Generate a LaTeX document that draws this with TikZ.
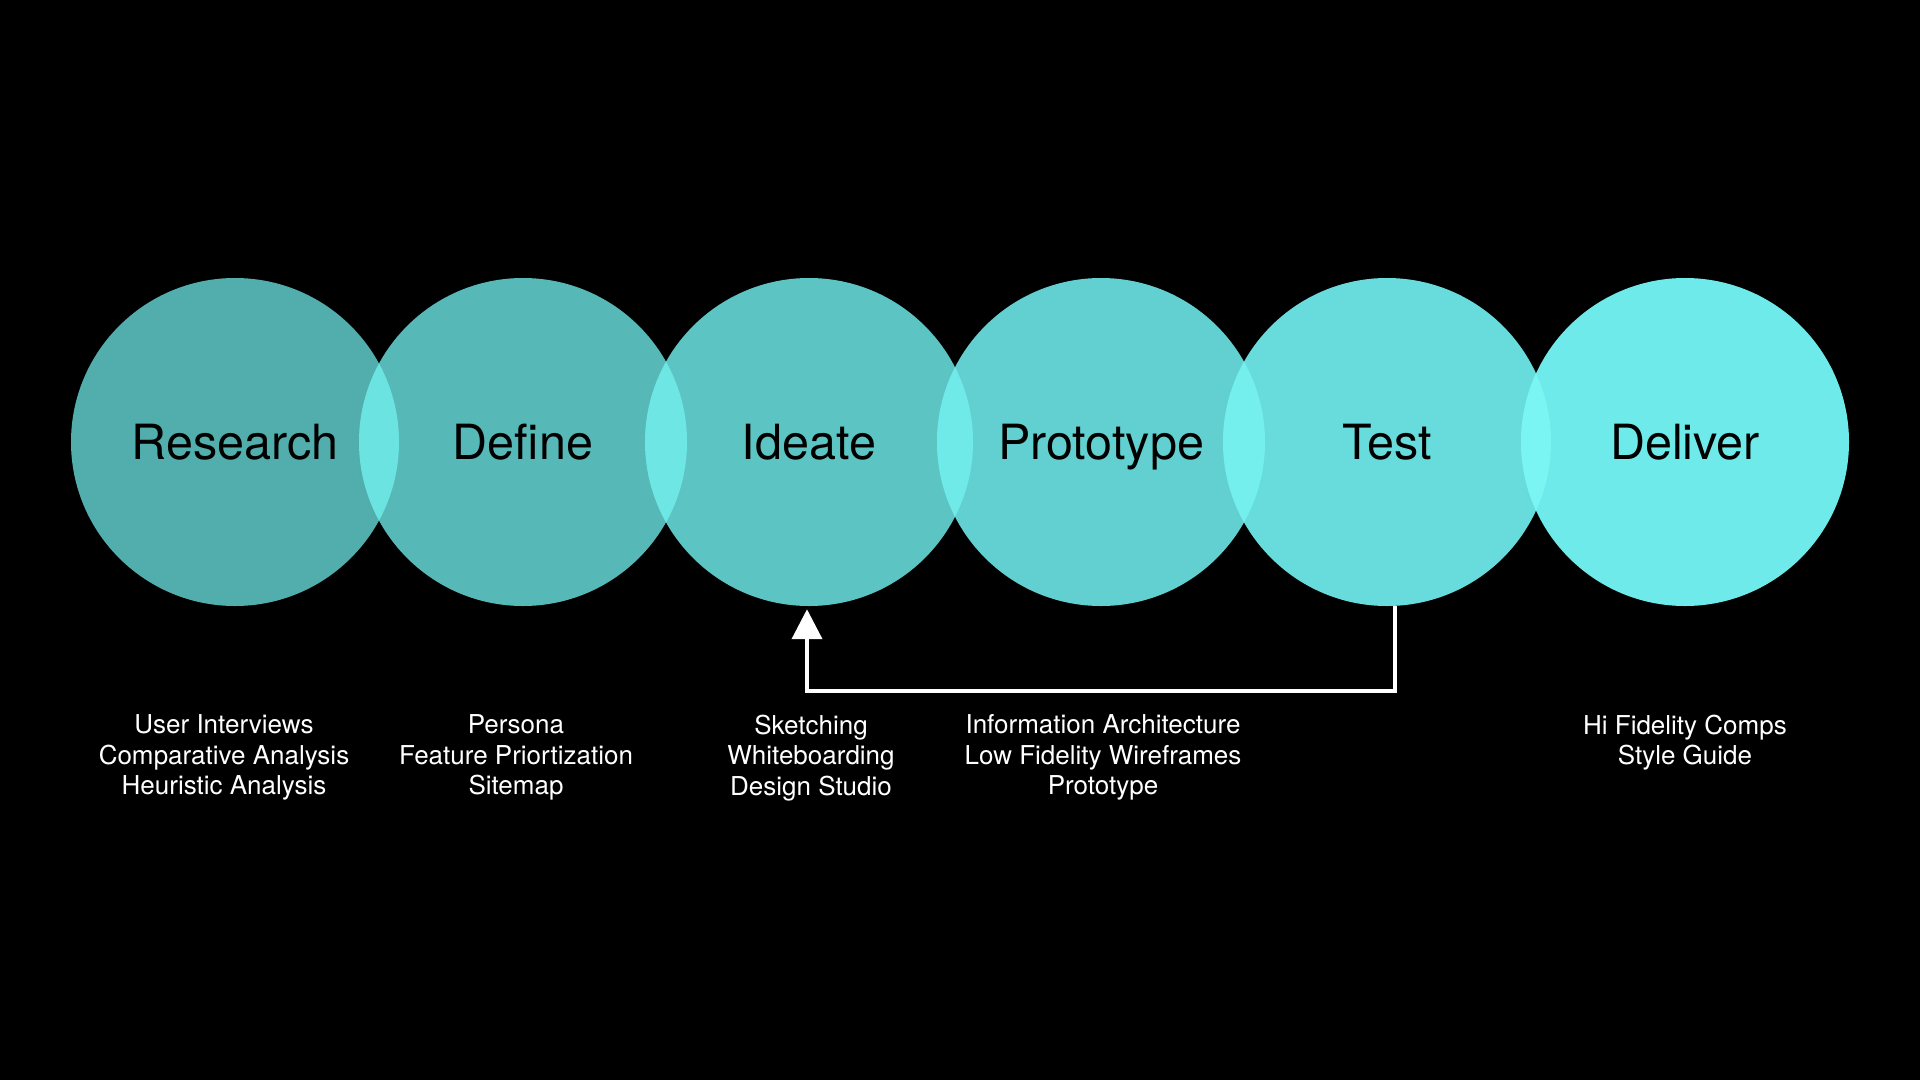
\documentclass[tikz,border=0pt]{standalone}
\usepackage{fontspec}
\setmainfont{TeX Gyre Heros}
\usetikzlibrary{arrows.meta}
\definecolor{cR}{RGB}{82,173,173}
\definecolor{cD}{RGB}{87,184,184}
\definecolor{cI}{RGB}{93,196,196}
\definecolor{cP}{RGB}{98,208,208}
\definecolor{cT}{RGB}{104,220,220}
\definecolor{cV}{RGB}{110,234,234}
\definecolor{oRD}{RGB}{107,227,224}
\definecolor{oDI}{RGB}{109,230,228}
\definecolor{oIP}{RGB}{112,234,233}
\definecolor{oPT}{RGB}{116,239,238}
\definecolor{oTV}{RGB}{122,245,244}
\begin{document}
\begin{tikzpicture}[x=1pt,y=-1pt,
  phase/.style={circle, minimum size=328pt, inner sep=0pt, text=black,
    text height=34.5pt, text depth=0pt,
    font=\fontsize{48.5}{58}\selectfont},
  items/.style={align=center, text=white, inner sep=0pt, anchor=north,
    font=\fontsize{26}{30.6}\selectfont},
  flow/.style={draw=white, line width=4pt, -{Triangle[width=30pt,length=30pt]}}]
\fill[black] (0,0) rectangle (1920,1080);
\useasboundingbox (0,0) rectangle (1920,1080);
% phases
\node[phase, fill=cR] (research) at (235,442) {Research};
\node[phase, fill=cD] (define) at (523,442) {Define};
\node[phase, fill=cI] (ideate) at (809,442) {Ideate};
\node[phase, fill=cP] (prototype) at (1101,442) {Prototype};
\node[phase, fill=cT] (test) at (1387,442) {Test};
\node[phase, fill=cV] (deliver) at (1685,442) {Deliver};
% overlaps
\begin{scope}
  \clip (235,442) circle[radius=164pt];
  \fill[oRD] (523,442) circle[radius=164pt];
\end{scope}
\begin{scope}
  \clip (523,442) circle[radius=164pt];
  \fill[oDI] (809,442) circle[radius=164pt];
\end{scope}
\begin{scope}
  \clip (809,442) circle[radius=164pt];
  \fill[oIP] (1101,442) circle[radius=164pt];
\end{scope}
\begin{scope}
  \clip (1101,442) circle[radius=164pt];
  \fill[oPT] (1387,442) circle[radius=164pt];
\end{scope}
\begin{scope}
  \clip (1387,442) circle[radius=164pt];
  \fill[oTV] (1685,442) circle[radius=164pt];
\end{scope}
% feedback arrow
\coordinate (a1) at ([xshift=8pt]test.south);
\coordinate (a2) at ([xshift=-2pt,yshift=-3pt]ideate.south);
\coordinate (lowy) at (0,691);
\draw[flow] (a1) -- (a1 |- lowy) -| (a2);
% item lists
\node[items] (l1) at (224,714.5) {User Interviews\\Comparative Analysis\\Heuristic Analysis};
\node[items] (l2) at (516,714.5) {Persona\\Feature Priortization\\Sitemap};
\node[items] (l3) at (811,714.5) {Sketching\\Whiteboarding\\Design Studio};
\node[items] (l4) at (1103,714.5) {Information Architecture\\Low Fidelity Wireframes\\Prototype};
\node[items] (l6) at (1685,714.5) {Hi Fidelity Comps\\Style Guide};
\end{tikzpicture}
\end{document}
